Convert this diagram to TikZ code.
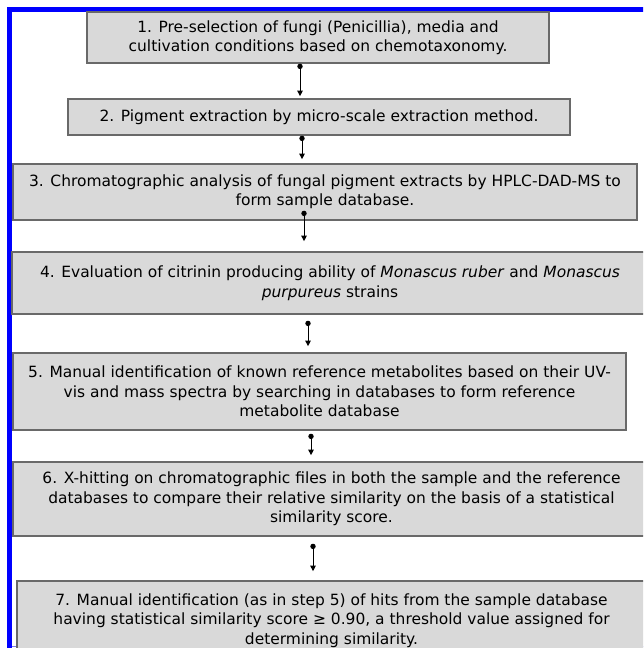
\documentclass[tikz,border=0pt]{standalone}
\usepackage{fontspec}
\setmainfont{DejaVu Sans}
\usetikzlibrary{arrows.meta}
\definecolor{boxfill}{RGB}{217,217,217}
\definecolor{boxline}{RGB}{105,105,105}
\definecolor{frameblue}{RGB}{0,0,255}
\definecolor{thinblue}{RGB}{120,120,235}
\begin{document}
\begin{tikzpicture}[x=0.75pt,y=-0.75pt,
  box/.style={draw=boxline, line width=1.1pt, fill=boxfill, align=center,
    inner sep=0pt, font=\fontsize{11.6}{14.6}\selectfont},
  conn/.style={line width=0.75pt, {Circle[length=4pt]}-{Triangle[length=4.2pt,width=4pt]}}]
\clip (0,0) rectangle (643,648);
\draw[frameblue, line width=3.75pt] (9.5,660) -- (9.5,9.5) -- (660,9.5);
\draw[thinblue, line width=0.75pt] (12,646.5) -- (660,646.5);

\node[box, minimum width=462*0.75pt, minimum height=51*0.75pt] (b1) at (318,37.5)
  {1. Pre-selection of fungi (Penicillia), media and\\cultivation conditions based on chemotaxonomy.};
\node[box, minimum width=502*0.75pt, minimum height=36*0.75pt] (b2) at (319,117)
  {2. Pigment extraction by micro-scale extraction method.};
\node[box, minimum width=624*0.75pt, minimum height=56*0.75pt] (b3) at (325,192)
  {3. Chromatographic analysis of fungal pigment extracts by HPLC-DAD-MS to\\form sample database.};
\node[box, minimum width=636*0.75pt, minimum height=62*0.75pt] (b4) at (330,283)
  {4. Evaluation of citrinin producing ability of \textit{Monascus ruber} and \textit{Monascus}\\\textit{purpureus} strains};
\node[box, minimum width=613*0.75pt, minimum height=77*0.75pt] (b5) at (319.5,391.5)
  {5. Manual identification of known reference metabolites based on their UV-\\vis and mass spectra by searching in databases to form reference\\metabolite database};
\node[box, minimum width=637*0.75pt, minimum height=74*0.75pt] (b6) at (331.5,499)
  {6. X-hitting on chromatographic files in both the sample and the reference\\databases to compare their relative similarity on the basis of a statistical\\similarity score.};
\node[box, minimum width=629*0.75pt, minimum height=79*0.75pt] (b7) at (331.5,620.5)
  {7. Manual identification (as in step 5) of hits from the sample database\\having statistical similarity score ≥ 0.90, a threshold value assigned for\\determining similarity.};

\draw[conn, shorten >=1.5pt] (b1.south -| 300,0) -- (b2.north -| 300,0);
\draw[conn, shorten >=3pt] (b2.south -| 302,0) -- (b3.north -| 302,0);
\draw[conn, shorten <=-7.5pt, shorten >=7.5pt] (b3.south -| 304,0) -- (b4.north -| 304,0);
\draw[conn, shorten <=4.5pt, shorten >=4.5pt] (b4.south -| 308,0) -- (b5.north -| 308,0);
\draw[conn, shorten <=2.25pt, shorten >=4.5pt] (b5.south -| 311,0) -- (b6.north -| 311,0);
\draw[conn, shorten <=5.25pt, shorten >=6.75pt] (b6.south -| 313,0) -- (b7.north -| 313,0);
\end{tikzpicture}
\end{document}
